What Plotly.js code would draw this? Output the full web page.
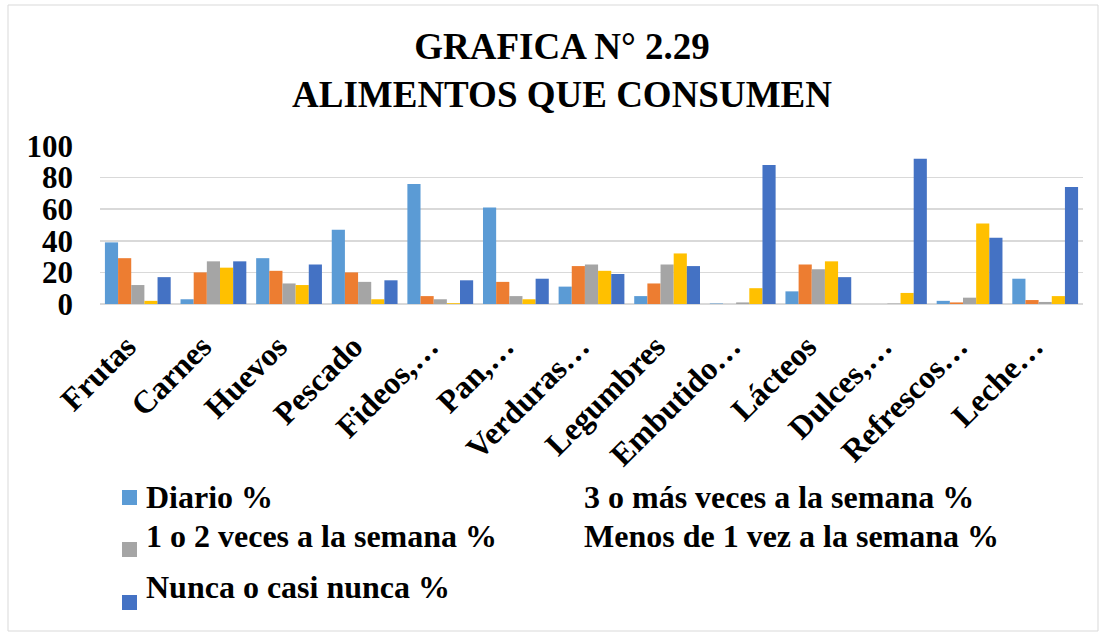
<!DOCTYPE html>
<html>
<head>
<meta charset="utf-8">
<script src="https://cdn.plot.ly/plotly-3.0.1.min.js"></script>
<style>html,body{margin:0;padding:0;background:#fff;}#chart{width:1106px;height:637px;}</style>
</head>
<body>
<div id="chart"></div>
<script>
const categories = ["Frutas","Carnes","Huevos","Pescado","Fideos,…","Pan,…","Verduras…","Legumbres","Embutido…","Lácteos","Dulces,…","Refrescos…","Leche…"];
const seriesNames = ["Diario %","3 o más veces a la semana %","1 o 2 veces a la semana %","Menos de 1 vez a la semana %","Nunca o casi nunca %"];
const diario     = [39, 3, 29, 47, 76, 61, 11, 5, 0.3, 8, 0, 2, 16];
const tresOMas   = [29, 20, 21, 20, 5, 14, 24, 13, 0, 25, 0, 1, 2.5];
const unoODos    = [12, 27, 13, 14, 3, 5, 25, 25, 1, 22, 0.3, 4, 1.3];
const menosDeUno = [2, 23, 12, 3, 0.5, 3, 21, 32, 10, 27, 7, 51, 5];
const nunca      = [17, 27, 25, 15, 15, 16, 19, 24, 88, 17, 92, 42, 74];
const yTicks = [0, 20, 40, 60, 80, 100];
const colors = ["#5B9BD5","#ED7D31","#A5A5A5","#FFC000","#4472C4"];
const seriesValues = [diario, tresOMas, unoODos, menosDeUno, nunca];

const W = 1106, H = 637;
const M = {l: 100, r: 23, t: 146, b: 333};
const pw = W - M.l - M.r, ph = H - M.t - M.b;
const px = x => (x - M.l) / pw;
const py = y => (H - M.b - y) / ph;

const serif = "Liberation Serif, Times New Roman, Times, serif";

const traces = seriesValues.map((vals, i) => ({
  type: "bar",
  name: seriesNames[i],
  x: categories,
  y: vals,
  marker: {color: colors[i]},
  hoverinfo: "x+y+name"
}));

const legendItems = [
  {text: seriesNames[0], x: 144, y: 497, swatch: {c: colors[0], y0: 490, y1: 505}},
  {text: seriesNames[1], x: 582, y: 497},
  {text: seriesNames[2], x: 144, y: 536, swatch: {c: colors[2], y0: 542, y1: 557}},
  {text: seriesNames[3], x: 582, y: 536},
  {text: seriesNames[4], x: 144, y: 587, swatch: {c: colors[4], y0: 595, y1: 610}}
];

const annotations = legendItems.map(it => ({
  xref: "paper", yref: "paper", x: px(it.x), y: py(it.y),
  xanchor: "left", yanchor: "middle", showarrow: false,
  text: "<b>" + it.text + "</b>",
  font: {family: serif, size: 32, color: "#000"}
}));

const shapes = [
  {type: "rect", xref: "paper", yref: "paper", x0: px(8), x1: px(1098), y0: py(5), y1: py(631),
   line: {color: "#d9d9d9", width: 1}, fillcolor: "rgba(0,0,0,0)", layer: "below"}
];
legendItems.forEach(it => {
  if (it.swatch) shapes.push({type: "rect", xref: "paper", yref: "paper",
    x0: px(122), x1: px(137), y0: py(it.swatch.y1), y1: py(it.swatch.y0),
    line: {width: 0}, fillcolor: it.swatch.c});
});

const layout = {
  width: W, height: H,
  margin: M,
  paper_bgcolor: "#fff", plot_bgcolor: "#fff",
  showlegend: false,
  barmode: "group", bargap: 0.13, bargroupgap: 0,
  title: {
    text: "<b>GRAFICA N° 2.29<br>ALIMENTOS QUE CONSUMEN</b>",
    font: {family: serif, size: 37, color: "#000"},
    x: 562 / W, xref: "container", xanchor: "center",
    y: 1 - 59/H, yref: "container", yanchor: "middle"
  },
  xaxis: {
    type: "category",
    tickangle: -45,
    tickvals: categories,
    ticktext: categories.map(c => "<b>" + c + "</b>&nbsp;&nbsp;"),
    tickfont: {family: serif, size: 32, color: "#000"},
    ticks: "", ticklabelstandoff: 5,
    showgrid: false, showline: false, zeroline: false,
    automargin: false
  },
  yaxis: {
    range: [0, 100],
    tickvals: yTicks,
    ticktext: yTicks.map(v => "<b>" + v + "</b>"),
    tickfont: {family: serif, size: 31, color: "#000"},
    ticks: "", ticklabelstandoff: 26,
    showgrid: true, gridcolor: "#d9d9d9", gridwidth: 1.5,
    zeroline: true, zerolinecolor: "#d9d9d9", zerolinewidth: 1.5,
    showline: false, automargin: false
  },
  annotations: annotations,
  shapes: shapes
};

Plotly.newPlot("chart", traces, layout, {displayModeBar: false, staticPlot: true});
</script>
</body>
</html>
